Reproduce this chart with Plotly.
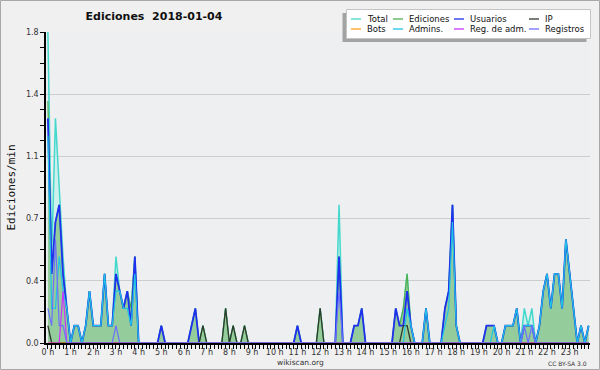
import plotly.graph_objects as go

# ---- data: 144 ten-minute slots (0:00 .. 23:50), values in edits/min ----
slots = list(range(144))
hour_ticks = list(range(0, 144, 6))
hour_labels = [f"{h} h" for h in range(24)]

y_ticks = [0, 0.36, 0.72, 1.08, 1.44, 1.8]
y_labels = ["0.0", "0.4", "0.7", "1.1", "1.4", "1.8"]

total = [
    1.8, 0.5, 1.3, 0.9, 0.5, 0.2, 0, 0.1, 0.1, 0, 0.1, 0.3,
    0.1, 0.1, 0.1, 0.4, 0.1, 0.1, 0.5, 0.3, 0.2, 0.3, 0.2, 0.5,
    0, 0, 0, 0, 0, 0, 0.1, 0, 0, 0, 0, 0,
    0, 0, 0.1, 0.2, 0, 0.1, 0, 0, 0, 0, 0, 0.2,
    0, 0.1, 0, 0, 0.1, 0, 0, 0, 0, 0, 0, 0,
    0, 0, 0, 0, 0, 0, 0.1, 0, 0, 0, 0, 0,
    0.2, 0, 0, 0, 0, 0.8, 0, 0, 0, 0.1, 0.1, 0.2,
    0, 0, 0, 0, 0, 0, 0, 0, 0.2, 0.1, 0.2, 0.4,
    0.1, 0, 0, 0, 0.2, 0, 0, 0, 0, 0.2, 0.3, 0.8,
    0.1, 0, 0, 0, 0, 0, 0, 0, 0.1, 0.1, 0.1, 0,
    0, 0.1, 0.1, 0.1, 0.2, 0, 0.2, 0.1, 0.2, 0, 0.1, 0.3,
    0.4, 0.2, 0.4, 0.4, 0.2, 0.6, 0.4, 0.2, 0, 0.1, 0, 0.1,
]
ediciones = [
    1.4, 0.4, 0.7, 0.8, 0.4, 0.2, 0, 0.1, 0.1, 0, 0.1, 0.3,
    0.1, 0.1, 0.1, 0.4, 0.1, 0.1, 0.4, 0.3, 0.2, 0.3, 0.2, 0.5,
    0, 0, 0, 0, 0, 0, 0.1, 0, 0, 0, 0, 0,
    0, 0, 0.1, 0.2, 0, 0.1, 0, 0, 0, 0, 0, 0.2,
    0, 0.1, 0, 0, 0.1, 0, 0, 0, 0, 0, 0, 0,
    0, 0, 0, 0, 0, 0, 0.1, 0, 0, 0, 0, 0,
    0.2, 0, 0, 0, 0, 0.5, 0, 0, 0, 0.1, 0.1, 0.2,
    0, 0, 0, 0, 0, 0, 0, 0, 0.2, 0.1, 0.2, 0.4,
    0.1, 0, 0, 0, 0.2, 0, 0, 0, 0, 0.2, 0.3, 0.8,
    0.1, 0, 0, 0, 0, 0, 0, 0, 0.1, 0.1, 0.1, 0,
    0, 0.1, 0.1, 0.1, 0.2, 0, 0.1, 0.1, 0.1, 0, 0.1, 0.3,
    0.4, 0.2, 0.4, 0.4, 0.2, 0.6, 0.4, 0.2, 0, 0.1, 0, 0.1,
]
usuarios = [
    1.3, 0.4, 0.7, 0.8, 0.4, 0.2, 0, 0.1, 0.1, 0, 0.1, 0.3,
    0.1, 0.1, 0.1, 0.4, 0.1, 0.1, 0.4, 0.3, 0.2, 0.3, 0.1, 0.5,
    0, 0, 0, 0, 0, 0, 0.1, 0, 0, 0, 0, 0,
    0, 0, 0.1, 0.2, 0, 0, 0, 0, 0, 0, 0, 0,
    0, 0, 0, 0, 0, 0, 0, 0, 0, 0, 0, 0,
    0, 0, 0, 0, 0, 0, 0.1, 0, 0, 0, 0, 0,
    0, 0, 0, 0, 0, 0.5, 0, 0, 0, 0.1, 0.1, 0.2,
    0, 0, 0, 0, 0, 0, 0, 0, 0.2, 0.1, 0.1, 0.3,
    0.1, 0, 0, 0, 0.2, 0, 0, 0, 0, 0.2, 0.3, 0.8,
    0.1, 0, 0, 0, 0, 0, 0, 0, 0.1, 0.1, 0.1, 0,
    0, 0.1, 0.1, 0.1, 0.2, 0, 0.1, 0.1, 0.1, 0, 0.1, 0.3,
    0.4, 0.2, 0.4, 0.4, 0.2, 0.6, 0.4, 0.2, 0, 0.1, 0, 0.1,
]
ip = [
    0.1, 0, 0, 0, 0, 0, 0, 0, 0, 0, 0, 0,
    0, 0, 0, 0, 0, 0, 0, 0, 0, 0, 0, 0,
    0, 0, 0, 0, 0, 0, 0, 0, 0, 0, 0, 0,
    0, 0, 0, 0, 0, 0.1, 0, 0, 0, 0, 0, 0.2,
    0, 0.1, 0, 0, 0.1, 0, 0, 0, 0, 0, 0, 0,
    0, 0, 0, 0, 0, 0, 0, 0, 0, 0, 0, 0,
    0.2, 0, 0, 0, 0, 0, 0, 0, 0, 0, 0, 0,
    0, 0, 0, 0, 0, 0, 0, 0, 0, 0, 0.1, 0.1,
    0, 0, 0, 0, 0, 0, 0, 0, 0, 0, 0, 0,
    0, 0, 0, 0, 0, 0, 0, 0, 0, 0, 0, 0,
    0, 0, 0, 0, 0, 0, 0, 0, 0, 0, 0, 0,
    0, 0, 0, 0, 0, 0, 0, 0, 0, 0, 0, 0,
]
bots = [0] * 144
admins = [
    1.2, 0.2, 0.2, 0.5, 0.3, 0.2, 0, 0.1, 0.1, 0, 0.1, 0.3,
    0.1, 0.1, 0.1, 0.4, 0.1, 0.1, 0.3, 0.3, 0.2, 0.2, 0.1, 0.4,
    0, 0, 0, 0, 0, 0, 0, 0, 0, 0, 0, 0,
    0, 0, 0, 0, 0, 0, 0, 0, 0, 0, 0, 0,
    0, 0, 0, 0, 0, 0, 0, 0, 0, 0, 0, 0,
    0, 0, 0, 0, 0, 0, 0, 0, 0, 0, 0, 0,
    0, 0, 0, 0, 0, 0, 0, 0, 0, 0, 0, 0,
    0, 0, 0, 0, 0, 0, 0, 0, 0, 0, 0, 0.2,
    0.1, 0, 0, 0, 0.2, 0, 0, 0, 0, 0.1, 0.2, 0.7,
    0.1, 0, 0, 0, 0, 0, 0, 0, 0, 0, 0.1, 0,
    0, 0.1, 0.1, 0.1, 0.2, 0, 0.1, 0.1, 0.1, 0, 0.1, 0.3,
    0.4, 0.2, 0.4, 0.4, 0.2, 0.6, 0.4, 0.2, 0, 0.1, 0, 0.1,
]
reg_adm = [
    0, 0, 0, 0, 0.3, 0, 0, 0, 0, 0, 0, 0,
] + [0] * 132
registros = [
    0.2, 0.1, 0.6, 0.1, 0.1, 0, 0, 0, 0, 0, 0, 0,
    0, 0, 0, 0, 0, 0, 0.1, 0, 0, 0, 0, 0,
    0, 0, 0, 0, 0, 0, 0, 0, 0, 0, 0, 0,
    0, 0, 0, 0, 0, 0, 0, 0, 0, 0, 0, 0,
    0, 0, 0, 0, 0, 0, 0, 0, 0, 0, 0, 0,
    0, 0, 0, 0, 0, 0, 0, 0, 0, 0, 0, 0,
    0, 0, 0, 0, 0, 0.3, 0, 0, 0, 0, 0, 0,
    0, 0, 0, 0, 0, 0, 0, 0, 0, 0, 0, 0,
    0, 0, 0, 0, 0, 0, 0, 0, 0, 0, 0, 0,
    0, 0, 0, 0, 0, 0, 0, 0, 0, 0, 0, 0,
    0, 0, 0, 0, 0, 0, 0.1, 0, 0.1, 0, 0, 0,
    0, 0, 0, 0, 0, 0, 0, 0, 0, 0, 0, 0,
]

series_names = ["Total", "Ediciones", "Usuarios", "IP", "Bots", "Admins.", "Reg. de adm.", "Registros"]
colors = {
    "Total": "#44d8cc",
    "Ediciones": "#4fb04f",
    "Usuarios": "#1f2ff0",
    "IP": "#2e3a2e",
    "Bots": "#ff9f1a",
    "Admins.": "#1ec3e6",
    "Reg. de adm.": "#cc33ff",
    "Registros": "#6f6fff",
}

# ---- layout geometry (pixels) ----
W, H = 600, 370
L, R, T, B = 46, 10, 32, 27
PW, PH = W - L - R, H - T - B


def px(x):
    return (x - L) / PW


def py(y):
    return (H - B - y) / PH


fig = go.Figure()

fig.add_trace(go.Scatter(x=slots, y=total, name="Total", mode="lines",
                         line=dict(color=colors["Total"], width=1.5),
                         fill="tozeroy", fillcolor="rgba(200,240,236,0.85)", showlegend=False))
fig.add_trace(go.Scatter(x=slots, y=ediciones, name="Ediciones", mode="lines",
                         line=dict(color=colors["Ediciones"], width=1.2),
                         fill="tozeroy", fillcolor="rgb(149,204,156)", showlegend=False))
line_series = [("Usuarios", usuarios, 1.8), ("IP", ip, 1.3), ("Bots", bots, 1.2),
               ("Admins.", admins, 1.2), ("Reg. de adm.", reg_adm, 1.2), ("Registros", registros, 1.2)]
for name, vals, w in line_series:
    fig.add_trace(go.Scatter(x=slots, y=vals, name=name, mode="lines",
                             line=dict(color=colors[name], width=w), showlegend=False))

shapes = []
annotations = []

# outer frame
shapes.append(dict(type="rect", xref="paper", yref="paper",
                   x0=px(0.5), x1=px(599.5), y0=py(369.5), y1=py(0.5),
                   line=dict(color="#a8a8a8", width=1), fillcolor="rgba(0,0,0,0)", layer="below"))

# legend box (shadow + box)
shapes.append(dict(type="rect", xref="paper", yref="paper",
                   x0=px(342.5), x1=px(586.5), y0=py(42), y1=py(13),
                   line=dict(width=0), fillcolor="#a3a3a3"))
shapes.append(dict(type="rect", xref="paper", yref="paper",
                   x0=px(346.5), x1=px(590.5), y0=py(38.5), y1=py(9.5),
                   line=dict(color="#c4c4c4", width=1), fillcolor="#ffffff"))
col_x = [351, 393, 454, 529]
row_y = [19, 29]
for k, name in enumerate(series_names):
    cx = col_x[k % 4]
    ry = row_y[k // 4]
    shapes.append(dict(type="line", xref="paper", yref="paper",
                       x0=px(cx), x1=px(cx + 10), y0=py(ry), y1=py(ry),
                       line=dict(color=colors[name], width=1.3)))
    annotations.append(dict(text=name, xref="paper", yref="paper", x=px(cx + 14), y=py(ry),
                            xanchor="left", yanchor="middle", showarrow=False,
                            font=dict(family="DejaVu Sans", size=8.5, color="#111111")))

annotations.append(dict(text="wikiscan.org", xref="paper", yref="paper", x=px(300), y=py(362),
                        xanchor="center", yanchor="middle", showarrow=False,
                        font=dict(family="DejaVu Sans", size=7.5, color="#333333")))
annotations.append(dict(text="CC BY-SA 3.0", xref="paper", yref="paper", x=px(589), y=py(363),
                        xanchor="right", yanchor="middle", showarrow=False,
                        font=dict(family="DejaVu Sans", size=6, color="#333333")))

fig.update_layout(
    width=W, height=H,
    margin=dict(l=L, r=R, t=T, b=B, pad=0),
    paper_bgcolor="#f0f0f0",
    plot_bgcolor="#eeeff1",
    showlegend=False,
    title=dict(text="<b>Ediciones  2018-01-04</b>", x=154 / W, y=1 - 16 / H,
               xref="container", yref="container", xanchor="center", yanchor="middle",
               font=dict(family="DejaVu Sans", size=11, color="#111111")),
    shapes=shapes,
    annotations=annotations,
    xaxis=dict(range=[-0.5, 143.37], tickvals=hour_ticks, ticktext=hour_labels,
               ticks="outside", ticklen=4, tickwidth=1, tickcolor="#000000",
               ticklabelstandoff=-4,
               minor=dict(dtick=1, tick0=0, ticks="outside", ticklen=4, tickwidth=1,
                          tickcolor="#000000", showgrid=False),
               showgrid=False, zeroline=False, showline=True, linecolor="#000000", linewidth=2,
               tickfont=dict(family="DejaVu Sans", size=8, color="#333333"),
               automargin=False, fixedrange=True),
    yaxis=dict(range=[0, 1.8], tickvals=y_ticks, ticktext=y_labels,
               ticks="outside", ticklen=4, tickwidth=1, tickcolor="#000000",
               minor=dict(dtick=0.09, tick0=0, ticks="outside", ticklen=4, tickwidth=1,
                          tickcolor="#000000", showgrid=False),
               showgrid=True, gridcolor="#cdcdcd", gridwidth=1,
               zeroline=False, showline=True, linecolor="#000000", linewidth=1.5,
               tickfont=dict(family="DejaVu Sans", size=8, color="#333333"),
               title=dict(text="Ediciones/min", standoff=8,
                          font=dict(family="DejaVu Sans Mono", size=11, color="#111111")),
               automargin=False, fixedrange=True),
)

fig.write_html("out.html")
